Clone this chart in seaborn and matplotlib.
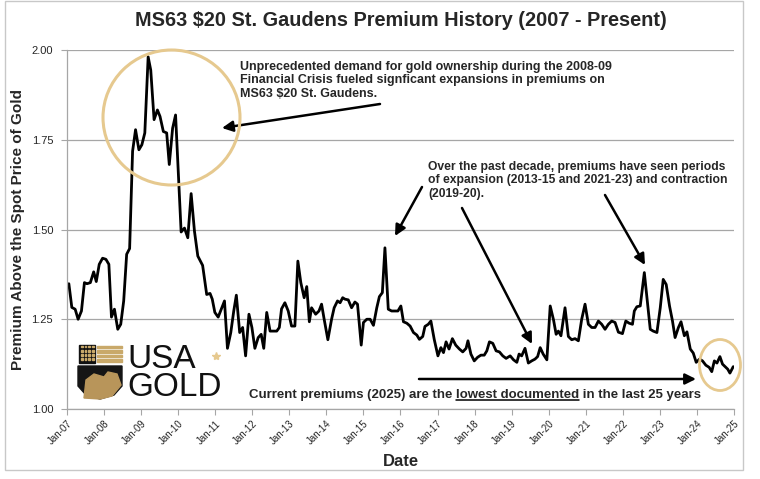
import pandas as pd
import matplotlib.pyplot as plt
import seaborn as sns
from matplotlib.patches import Ellipse, Rectangle, Polygon, FancyArrowPatch
from matplotlib.lines import Line2D

# --- Data ---
years = [
    2007.05, 2007.13, 2007.22, 2007.30, 2007.39, 2007.47, 2007.54, 2007.63, 2007.72, 2007.79,
    2007.87, 2007.96, 2008.05, 2008.13, 2008.20, 2008.28, 2008.37, 2008.45, 2008.53, 2008.61,
    2008.69, 2008.77, 2008.85, 2008.94, 2009.02, 2009.10, 2009.19, 2009.26, 2009.35, 2009.44,
    2009.51, 2009.60, 2009.69, 2009.76, 2009.85, 2009.93, 2010.08, 2010.17, 2010.26, 2010.35,
    2010.44, 2010.53, 2010.66, 2010.77, 2010.86, 2010.92, 2010.99, 2011.08, 2011.18, 2011.25,
    2011.33, 2011.42, 2011.50, 2011.57, 2011.66, 2011.74, 2011.82, 2011.91, 2011.99, 2012.07,
    2012.16, 2012.24, 2012.31, 2012.39, 2012.48, 2012.57, 2012.66, 2012.73, 2012.79, 2012.88,
    2012.97, 2013.06, 2013.15, 2013.23, 2013.31, 2013.40, 2013.47, 2013.54, 2013.60, 2013.71,
    2013.80, 2013.87, 2013.94, 2014.04, 2014.14, 2014.21, 2014.30, 2014.37, 2014.44, 2014.50,
    2014.59, 2014.68, 2014.77, 2014.84, 2014.94, 2015.00, 2015.09, 2015.18, 2015.27, 2015.36,
    2015.43, 2015.51, 2015.58, 2015.67, 2015.76, 2015.85, 2015.93, 2016.01, 2016.08, 2016.17,
    2016.26, 2016.35, 2016.44, 2016.51, 2016.60, 2016.66, 2016.75, 2016.82, 2016.91, 2017.01,
    2017.09, 2017.16, 2017.23, 2017.31, 2017.40, 2017.49, 2017.59, 2017.68, 2017.77, 2017.82,
    2017.90, 2017.99, 2018.08, 2018.17, 2018.26, 2018.33, 2018.40, 2018.49, 2018.58, 2018.67,
    2018.76, 2018.85, 2018.96, 2019.05, 2019.14, 2019.20, 2019.27, 2019.36, 2019.45, 2019.54,
    2019.63, 2019.70, 2019.77, 2019.85, 2019.95, 2020.04, 2020.13, 2020.20, 2020.26, 2020.33,
    2020.44, 2020.53, 2020.62, 2020.71, 2020.80, 2020.89, 2020.98, 2021.07, 2021.16, 2021.25,
    2021.34, 2021.43, 2021.52, 2021.61, 2021.70, 2021.79, 2021.88, 2021.99, 2022.08, 2022.17,
    2022.26, 2022.31, 2022.38, 2022.47, 2022.58, 2022.66, 2022.74, 2022.82, 2022.92, 2023.01,
    2023.09, 2023.17, 2023.26, 2023.34, 2023.41, 2023.50, 2023.57, 2023.66, 2023.73, 2023.82,
    2023.90, 2023.98, 2024.07, 2024.15, 2024.24, 2024.33, 2024.40, 2024.47, 2024.54, 2024.62,
    2024.69, 2024.76, 2024.83, 2024.89, 2024.98,
]
premium = [
    1.349, 1.283, 1.278, 1.250, 1.273, 1.352, 1.349, 1.352, 1.382, 1.355,
    1.403, 1.420, 1.417, 1.403, 1.256, 1.278, 1.222, 1.236, 1.301, 1.431,
    1.447, 1.718, 1.778, 1.722, 1.736, 1.769, 1.981, 1.944, 1.806, 1.833,
    1.815, 1.773, 1.769, 1.681, 1.782, 1.819, 1.493, 1.504, 1.477, 1.600,
    1.495, 1.426, 1.400, 1.319, 1.322, 1.306, 1.269, 1.256, 1.282, 1.301,
    1.169, 1.213, 1.273, 1.317, 1.213, 1.227, 1.148, 1.264, 1.227, 1.169,
    1.199, 1.208, 1.169, 1.269, 1.217, 1.217, 1.217, 1.227, 1.279, 1.296,
    1.273, 1.231, 1.231, 1.412, 1.352, 1.310, 1.341, 1.243, 1.282, 1.264,
    1.273, 1.292, 1.250, 1.193, 1.250, 1.282, 1.301, 1.296, 1.310, 1.306,
    1.304, 1.282, 1.298, 1.292, 1.178, 1.241, 1.250, 1.250, 1.233, 1.282,
    1.313, 1.324, 1.449, 1.278, 1.273, 1.273, 1.273, 1.287, 1.243, 1.239,
    1.231, 1.213, 1.206, 1.194, 1.202, 1.230, 1.236, 1.245, 1.194, 1.148,
    1.171, 1.157, 1.187, 1.167, 1.196, 1.178, 1.167, 1.159, 1.169, 1.190,
    1.153, 1.134, 1.144, 1.150, 1.150, 1.162, 1.187, 1.183, 1.162, 1.159,
    1.148, 1.141, 1.148, 1.137, 1.130, 1.153, 1.148, 1.169, 1.128, 1.134,
    1.139, 1.146, 1.171, 1.153, 1.137, 1.287, 1.248, 1.208, 1.217, 1.204,
    1.282, 1.202, 1.193, 1.196, 1.190, 1.250, 1.292, 1.236, 1.227, 1.227,
    1.245, 1.236, 1.222, 1.236, 1.245, 1.241, 1.214, 1.210, 1.245, 1.239,
    1.236, 1.273, 1.285, 1.287, 1.380, 1.301, 1.222, 1.217, 1.213, 1.282,
    1.361, 1.347, 1.287, 1.245, 1.199, 1.227, 1.243, 1.204, 1.215, 1.167,
    1.156, 1.130, 1.139, 1.134, 1.122, 1.116, 1.104, 1.134, 1.128, 1.146,
    1.125, 1.118, 1.111, 1.100, 1.118,
]
tick_years = list(range(2007, 2026))
tick_labels = ["Jan-07", "Jan-08", "Jan-09", "Jan-10", "Jan-11", "Jan-12", "Jan-13",
               "Jan-14", "Jan-15", "Jan-16", "Jan-17", "Jan-18", "Jan-19", "Jan-20",
               "Jan-21", "Jan-22", "Jan-23", "Jan-24", "Jan-25"]
y_ticks = [1.00, 1.25, 1.50, 1.75, 2.00]

W, H = 760, 479
GOLD = "#e6c98f"
GRID = "#a6a6a6"


def px(x, y):
    # pixel position (from top-left) -> figure fraction
    return (x / W, 1 - y / H)


sns.set_theme(style="white")
plt.rcParams["font.family"] = ["Liberation Sans", "DejaVu Sans"]

fig = plt.figure(figsize=(W / 100, H / 100), dpi=100)
ax = fig.add_axes([67 / W, 1 - 409 / H, 667 / W, 359 / H])

df = pd.DataFrame({"year": years, "premium": premium})
sns.lineplot(data=df, x="year", y="premium", color="black", lw=2.0, ax=ax)

ax.set_xlim(2007, 2025)
ax.set_ylim(1.0, 2.0)
ax.set_yticks(y_ticks)
ax.set_yticklabels([f"{v:.2f}" for v in y_ticks], fontsize=8)
ax.set_xticks(tick_years)
ax.set_xticklabels(tick_labels, fontsize=7, rotation=45, ha="right",
                   rotation_mode="anchor", family=["Liberation Sans Narrow", "Liberation Sans"])
ax.grid(axis="y", color=GRID, lw=0.9)
ax.grid(axis="x", visible=False)
ax.tick_params(axis="y", left=True, length=4, width=0.8, color=GRID, pad=6)
ax.tick_params(axis="x", bottom=True, length=4, width=0.8, color=GRID, pad=3)
for side in ["top", "right"]:
    ax.spines[side].set_visible(False)
for side in ["left", "bottom"]:
    ax.spines[side].set_color(GRID)
    ax.spines[side].set_linewidth(0.9)

ax.set_xlabel("Date", fontsize=12, fontweight="bold", labelpad=5)
ax.set_ylabel("Premium Above the Spot Price of Gold", fontsize=11, fontweight="bold")
ax.yaxis.set_label_coords(-0.073, 0.5)
ax.yaxis.label.set_verticalalignment("center")

fig.text(*px(401, 20), "MS63 $20 St. Gaudens Premium History (2007 - Present)",
         ha="center", va="center", fontsize=14.3, fontweight="bold")

# outer chart frame
fig.add_artist(Rectangle(px(5, 470), 738 / W, 469 / H, transform=fig.transFigure,
                         fill=False, ec="#c8c8c8", lw=1.0))

# --- Annotations ---
fig.text(*px(240, 61), "Unprecedented demand for gold ownership during the 2008-09\n"
         "Financial Crisis fueled signficant expansions in premiums on\n"
         "MS63 $20 St. Gaudens.", fontsize=9.0, fontweight="bold", ha="left",
         va="top", linespacing=1.15)
fig.text(*px(428, 161), "Over the past decade, premiums have seen periods\n"
         "of expansion (2013-15 and 2021-23) and contraction\n"
         "(2019-20).", fontsize=8.7, fontweight="bold", ha="left",
         va="top", linespacing=1.15)

arrows = [((380, 104), (222, 128)), ((422, 187), (395, 236)),
          ((462, 208), (532, 344)), ((605, 195), (645, 265)),
          ((419, 379), (696, 379))]
for a, b in arrows:
    fig.add_artist(FancyArrowPatch(px(*a), px(*b), transform=fig.transFigure,
                                   arrowstyle="-|>", mutation_scale=16, lw=1.8,
                                   color="black", shrinkA=0, shrinkB=0))

fig.add_artist(Ellipse(px(171.5, 117.5), 137 / W, 135 / H, transform=fig.transFigure,
                       fill=False, ec=GOLD, lw=2.2))
fig.add_artist(Ellipse(px(720, 365), 41 / W, 51 / H, transform=fig.transFigure,
                       fill=False, ec=GOLD, lw=2.0))

# bottom statement with underlined words
fig.canvas.draw()
renderer = fig.canvas.get_renderer()
bot_kw = dict(fontsize=9.5, fontweight="bold", ha="left", va="baseline")
full = "Current premiums (2025) are the lowest documented in the last 25 years"
x0, yb = px(249, 398)
fig.text(x0, yb, full, **bot_kw)


def text_width(s):
    t = fig.text(0, 0, s, **bot_kw)
    w = t.get_window_extent(renderer).width
    t.remove()
    return w


u_start = text_width("Current premiums (2025) are the l") - text_width("l")
u_end = text_width("Current premiums (2025) are the lowest documented")
fig.add_artist(Line2D([x0 + u_start / W, x0 + u_end / W], [yb - 2 / H, yb - 2 / H],
                      transform=fig.transFigure, color="black", lw=1.1))

# --- USA GOLD logo ---
fig.add_artist(Rectangle(px(79, 363), 16 / W, 18 / H, transform=fig.transFigure,
                         color="#111111"))
for i in range(4):
    for j in range(4):
        fig.add_artist(Rectangle(px(81 + i * 3.6, 360 - j * 4.2), 1.8 / W, 1.8 / H,
                                 transform=fig.transFigure, color="#c9a96a"))
for k in range(4):
    fig.add_artist(Rectangle(px(97, 348 + k * 4.6), 25 / W, 2.4 / H,
                             transform=fig.transFigure, color="#c9a96a"))
shield = [px(78, 366), px(122, 366), px(122, 386), px(114, 395), px(100, 399),
          px(86, 395), px(78, 386)]
fig.add_artist(Polygon(shield, closed=True, transform=fig.transFigure, color="#151515"))
fig.add_artist(Polygon([px(84, 398), px(86, 380), px(94, 374), px(104, 377), px(108, 372),
                        px(117, 374), px(121, 385), px(112, 396), px(100, 399)],
                       closed=True, transform=fig.transFigure, color="#b8955a"))
fig.text(*px(127, 396), "USA\nGOLD", fontsize=24, ha="left", va="baseline",
         linespacing=0.87, color="#111111")
sx, sy = px(216, 356)
fig.add_artist(Line2D([sx], [sy], transform=fig.transFigure, marker="*", ms=6,
                      color=GOLD, lw=0))

fig.savefig("out.png", dpi=100)
